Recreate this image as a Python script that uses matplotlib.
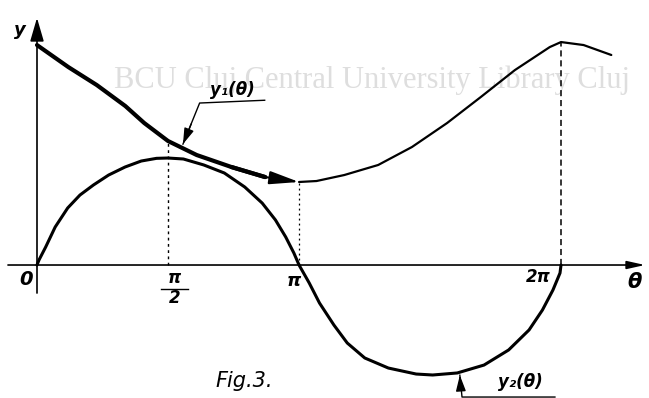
import numpy as np
import matplotlib.pyplot as plt

# y1(theta): heavy stroke from 0 to pi, light stroke afterwards
th1_a = [0, 0.376, 0.717, 1.059, 1.286, 1.571, 1.915, 2.331, 2.736, 3.142]
y1_a = [2.056, 1.85, 1.682, 1.486, 1.327, 1.159, 1.028, 0.916, 0.822, 0.776]
th1_b = [3.142, 3.351, 3.684, 4.091, 4.496, 4.917, 5.321, 5.730, 6.148, 6.283, 6.554, 6.886]
y1_b = [0.776, 0.785, 0.841, 0.935, 1.103, 1.327, 1.570, 1.822, 2.037, 2.084, 2.056, 1.963]

# y2(theta)
th2 = [0, 0.024, 0.104, 0.218, 0.368, 0.515, 0.677, 0.859, 1.056, 1.250, 1.433, 1.571,
       1.755, 2.000, 2.246, 2.491, 2.700, 2.859, 2.982, 3.080, 3.142,
       3.264, 3.387, 3.560, 3.720, 3.930, 4.213, 4.546, 4.744, 5.039, 5.360,
       5.655, 5.900, 6.060, 6.186, 6.271, 6.283]
y2 = [0, 0.047, 0.168, 0.355, 0.533, 0.654, 0.748, 0.841, 0.916, 0.972, 0.997, 1.0,
      0.991, 0.935, 0.860, 0.729, 0.579, 0.421, 0.262, 0.112, 0,
      -0.168, -0.355, -0.561, -0.729, -0.869, -0.963, -1.019, -1.028, -1.009, -0.935,
      -0.794, -0.607, -0.421, -0.234, -0.075, 0]

ticks = [0, np.pi / 2, np.pi, 2 * np.pi]

fig = plt.figure(figsize=(6.49, 3.98), dpi=100)
ax = fig.add_axes([0, 0, 1, 1])
ax.set_xlim(-0.4436, 7.338)
ax.set_ylim(-1.243, 2.477)
ax.axis("off")

hand = dict(fontstyle="italic", fontweight="bold", color="k")

# library stamp behind everything
ax.text(4.02, 1.73, "BCU Cluj Central University Library Cluj", family="Liberation Serif",
        fontsize=22, color="#dedede", ha="center", va="center", zorder=0)

# axes with arrows
ax.annotate("", xy=(7.29, 0), xytext=(-0.348, 0),
            arrowprops=dict(arrowstyle="-|>,head_length=0.9,head_width=0.2", lw=1.2,
                            color="k", mutation_scale=12, shrinkA=0, shrinkB=0))
ax.annotate("", xy=(0, 2.31), xytext=(0, -0.262),
            arrowprops=dict(arrowstyle="-|>,head_length=1.2,head_width=0.35", lw=1.2,
                            color="k", mutation_scale=12, shrinkA=0, shrinkB=0))
ax.text(-0.2, 2.2, "y", fontsize=13, ha="center", va="center", **hand)
ax.text(7.17, -0.16, "θ", fontsize=15, ha="center", va="center", **hand)

# guide lines down to the axis
ax.plot([ticks[1]] * 2, [0, np.interp(ticks[1], th1_a, y1_a)], color="k", lw=1.0,
        ls=(0, (2, 2.5)))
ax.plot([ticks[2]] * 2, [0, y1_a[-1]], color="k", lw=0.9, ls=(0, (1.5, 2.5)))
ax.plot([ticks[3]] * 2, [0, np.interp(ticks[3], th1_b, y1_b)], color="k", lw=1.1,
        ls=(0, (4, 2.5)))

# curves
ax.plot(th2, y2, color="k", lw=2.2, solid_capstyle="round", solid_joinstyle="round")
ax.plot(th1_b, y1_b, color="k", lw=1.6, solid_capstyle="round", solid_joinstyle="round")
ax.plot(th1_a[:-1], y1_a[:-1], color="k", lw=3.0, solid_capstyle="round",
        solid_joinstyle="round")
ax.annotate("", xy=(th1_a[-1], y1_a[-1]), xytext=(th1_a[-2], y1_a[-2]),
            arrowprops=dict(arrowstyle="-|>,head_length=0.9,head_width=0.2", lw=1.5,
                            color="k", mutation_scale=20, shrinkA=0, shrinkB=0))
ax.plot(th1_a[-3:-1], y1_a[-3:-1], color="k", lw=3.0, solid_capstyle="round")

# tick labels
ax.text(-0.13, -0.14, "0", fontsize=14, ha="center", va="center", **hand)
ax.text(ticks[1] + 0.08, -0.12, "π", fontsize=12, ha="center", va="center", **hand)
ax.plot([ticks[1] - 0.08, ticks[1] + 0.24], [-0.225, -0.225], color="k", lw=1.0)
ax.text(ticks[1] + 0.08, -0.31, "2", fontsize=12, ha="center", va="center", **hand)
ax.text(ticks[2] - 0.06, -0.15, "π", fontsize=13, ha="center", va="center", **hand)
ax.text(ticks[3] - 0.27, -0.11, "2π", fontsize=12, ha="center", va="center", **hand)

# curve labels with leader lines
ax.plot([1.75, 1.95, 2.73], [1.13, 1.514, 1.54], color="k", lw=1.0)
ax.annotate("", xy=(1.75, 1.13), xytext=(1.85, 1.32),
            arrowprops=dict(arrowstyle="-|>,head_length=0.8,head_width=0.25", lw=1.0,
                            color="k", mutation_scale=12, shrinkA=0, shrinkB=0))
ax.text(2.34, 1.64, "y₁(θ)", fontsize=12, ha="center", va="center", **hand)

ax.plot([5.07, 5.096, 6.21], [-1.03, -1.234, -1.234], color="k", lw=1.0)
ax.annotate("", xy=(5.07, -1.03), xytext=(5.08, -1.15),
            arrowprops=dict(arrowstyle="-|>,head_length=0.8,head_width=0.25", lw=1.0,
                            color="k", mutation_scale=12, shrinkA=0, shrinkB=0))
ax.text(5.79, -1.09, "y₂(θ)", fontsize=12, ha="center", va="center", **hand)

ax.text(2.49, -1.084, "Fig.3.", fontsize=15, fontstyle="italic", ha="center", va="center")

fig.savefig("out.png", dpi=100)
